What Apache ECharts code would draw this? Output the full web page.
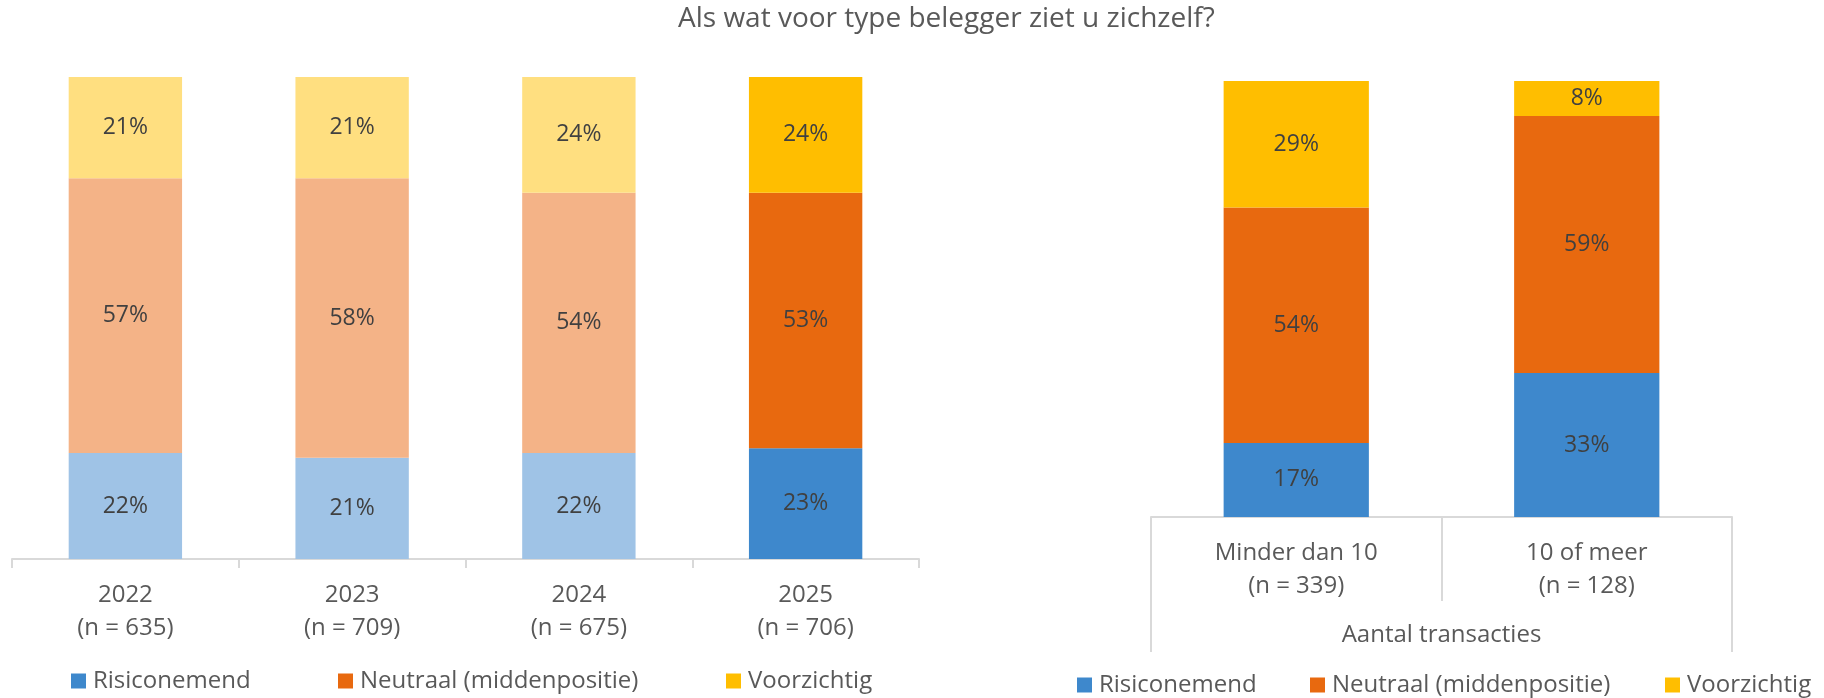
<!DOCTYPE html>
<html>
<head>
<meta charset="utf-8">
<script src="https://cdn.jsdelivr.net/npm/echarts@6/dist/echarts.min.js"></script>
<style>
html,body{margin:0;padding:0;background:#fff;}
#chart{width:1824px;height:698px;}
</style>
</head>
<body>
<div id="chart"></div>
<script>
// ---- Data ----
const title = 'Als wat voor type belegger ziet u zichzelf?';
const seriesNames = ['Risiconemend', 'Neutraal (middenpositie)', 'Voorzichtig'];

const years = ['2022', '2023', '2024', '2025'];
const yearN = [635, 709, 675, 706];
const yearRisico = [22, 21, 22, 23];
const yearNeutraal = [57, 58, 54, 53];
const yearVoorzichtig = [21, 21, 24, 24];
const highlightYear = '2025';

const groups = ['Minder dan 10', '10 of meer'];
const groupN = [339, 128];
const groupRisico = [17, 33];
const groupNeutraal = [54, 59];
const groupVoorzichtig = [29, 8];
const groupAxisTitle = 'Aantal transacties';

// ---- Style ----
const FONT = '"Open Sans", "Noto Sans", sans-serif';
const darkColors = ['#3E88CC', '#E8690F', '#FFBE00'];
const lightColors = ['#9FC3E6', '#F4B387', '#FFDF80'];
const gridLine = '#D9D9D9';
const leftLegendX = [71, 338, 726];
const rightLegendX = [1077, 1310, 1665];

const yearCats = years.map((y, i) => y + '\n(n = ' + yearN[i] + ')');
const groupCats = groups.map((g, i) => g + '\n(n = ' + groupN[i] + ')');

const leftValues = [yearRisico, yearNeutraal, yearVoorzichtig];
const rightValues = [groupRisico, groupNeutraal, groupVoorzichtig];

const labelStyle = {
  show: true, position: 'inside', formatter: '{c}%',
  fontFamily: FONT, fontSize: 23, color: '#404040'
};

const series = [];
leftValues.forEach((vals, s) => {
  series.push({
    name: seriesNames[s], type: 'bar', stack: 'left',
    xAxisIndex: 0, yAxisIndex: 0, barWidth: '50%',
    itemStyle: { color: darkColors[s] },
    label: labelStyle,
    data: vals.map((v, i) => ({
      value: v,
      itemStyle: { color: years[i] === highlightYear ? darkColors[s] : lightColors[s] }
    }))
  });
});
rightValues.forEach((vals, s) => {
  series.push({
    name: seriesNames[s], type: 'bar', stack: 'right',
    xAxisIndex: 1, yAxisIndex: 1, barWidth: '50%',
    itemStyle: { color: darkColors[s] },
    label: labelStyle,
    data: vals
  });
});

const catLabel = {
  fontFamily: FONT, fontSize: 24, color: '#595959', lineHeight: 33, margin: 20
};

function legendItem(name, left, top) {
  return {
    data: [name], left: left, top: top, padding: 0,
    itemWidth: 15, itemHeight: 15, icon: 'rect',
    textStyle: { fontFamily: FONT, fontSize: 24, color: '#595959', lineHeight: 24, padding: [0, 0, 0, 2] }
  };
}
const legends = [];
seriesNames.forEach((n, i) => legends.push(legendItem(n, leftLegendX[i], 669)));
seriesNames.forEach((n, i) => legends.push(legendItem(n, rightLegendX[i], 673)));

const chart = echarts.init(document.getElementById('chart'), null, { renderer: 'canvas' });
chart.setOption({
  animation: false,
  backgroundColor: '#ffffff',
  title: {
    text: title, left: 678, top: 5, padding: 0,
    textStyle: { fontFamily: FONT, fontSize: 28, fontWeight: 'normal', color: '#595959' }
  },
  legend: legends,
  grid: [
    { left: 12, top: 77, width: 907, height: 482 },
    { left: 1151, top: 81, width: 581, height: 436 }
  ],
  xAxis: [
    {
      type: 'category', gridIndex: 0, data: yearCats,
      axisLine: { lineStyle: { color: gridLine, width: 2 } },
      axisTick: { show: true, length: 9, lineStyle: { color: gridLine, width: 2 } },
      axisLabel: catLabel
    },
    {
      type: 'category', gridIndex: 1, data: groupCats,
      axisLine: { lineStyle: { color: gridLine, width: 2 } },
      axisTick: { show: true, length: 84, lineStyle: { color: gridLine, width: 2 } },
      axisLabel: catLabel
    },
    {
      type: 'category', gridIndex: 1, data: [groupAxisTitle], position: 'bottom',
      axisLine: { show: false },
      axisTick: { show: true, length: 135, lineStyle: { color: gridLine, width: 2 } },
      axisLabel: Object.assign({}, catLabel, { margin: 102 })
    }
  ],
  yAxis: [
    { type: 'value', gridIndex: 0, min: 0, max: 100, show: false },
    { type: 'value', gridIndex: 1, min: 0, max: 100, show: false }
  ],
  series: series
});
</script>
</body>
</html>
